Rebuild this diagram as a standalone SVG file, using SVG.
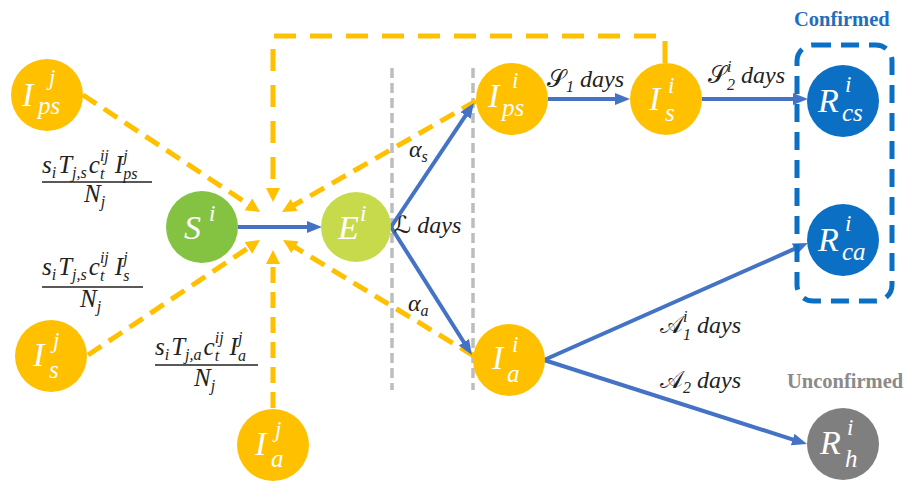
<svg xmlns="http://www.w3.org/2000/svg" width="920" height="481" viewBox="0 0 920 481">
<style>
.or{fill:#FFC000}
.nl{font-family:"Liberation Serif","DejaVu Serif",serif;font-style:italic;fill:#fff;font-size:34px}
.ns{font-size:25px}
.nu{font-size:23px}
.od{fill:none;stroke:#FFC000;stroke-width:5;stroke-dasharray:16 9}
.bl{fill:none;stroke:#4472C4;stroke-width:4}
.gd{fill:none;stroke:#BDBDBD;stroke-width:3.5;stroke-dasharray:10 5}
.f{font-family:"Liberation Serif","DejaVu Serif",serif;font-style:italic;fill:#222;font-size:25px}
.fs{font-size:16px}
.lb{font-family:"Liberation Serif","DejaVu Serif","DejaVu Sans",serif;font-style:italic;fill:#222;font-size:24px}
.ls{font-size:16px}
.sc{font-style:normal}
</style>
<defs>
<marker id="ao" markerUnits="userSpaceOnUse" markerWidth="16" markerHeight="16" refX="2" refY="7" orient="auto"><path d="M0,0 L14,7 L0,14 z" fill="#FFC000"/></marker>
<marker id="ab" markerUnits="userSpaceOnUse" markerWidth="16" markerHeight="14" refX="2" refY="6" orient="auto"><path d="M0,0 L15,6 L0,12 z" fill="#4472C4"/></marker>
</defs>
<rect width="920" height="481" fill="#fff"/>

<g id="connectors">
<line class="gd" x1="392" y1="68" x2="392" y2="390"/>
<line class="gd" x1="473" y1="68" x2="473" y2="390"/>
<line class="od" x1="83" y1="95" x2="250" y2="205.4" marker-end="url(#ao)"/>
<line class="od" x1="88" y1="355" x2="250" y2="246.7" marker-end="url(#ao)"/>
<line class="od" x1="273" y1="408" x2="273" y2="262" marker-end="url(#ao)"/>
<line class="od" x1="476" y1="101" x2="292.4" y2="206" marker-end="url(#ao)"/>
<line class="od" x1="474" y1="356" x2="293.3" y2="246.2" marker-end="url(#ao)"/>
<path class="od" d="M665,63 V36 H273 V190" style="stroke-dasharray:22 14" marker-end="url(#ao)"/>
<line class="bl" x1="238" y1="227" x2="309" y2="227" marker-end="url(#ab)"/>
<line class="bl" x1="391" y1="227" x2="466.7" y2="113.8" marker-end="url(#ab)"/>
<line class="bl" x1="391" y1="227" x2="465" y2="344" marker-end="url(#ab)"/>
<line class="bl" x1="548" y1="99" x2="617" y2="99" marker-end="url(#ab)"/>
<line class="bl" x1="702" y1="99" x2="795" y2="99" marker-end="url(#ab)"/>
<line class="bl" x1="544" y1="360" x2="796.1" y2="248.2" marker-end="url(#ab)"/>
<line class="bl" x1="544" y1="360" x2="794.6" y2="440.1" marker-end="url(#ab)"/>
</g>

<g id="confirmed-group">
<rect x="797" y="45" width="95" height="256" rx="16" fill="none" stroke="#0B6FC4" stroke-width="5" stroke-dasharray="18 10"/>
<text x="794" y="26" font-family="Liberation Serif,serif" font-weight="bold" font-size="20.5" fill="#1F6FBF">Confirmed</text>
</g>
<text id="label-unconfirmed" x="787" y="388" font-family="Liberation Serif,serif" font-weight="bold" font-size="20.5" fill="#8A8A8A">Unconfirmed</text>

<g id="node-Ipsj"><circle class="or" cx="47" cy="95" r="36"/>
<text class="nl" x="22" y="106">I</text><text class="nl nu" x="49" y="85">j</text><text class="nl ns" x="38" y="114">ps</text></g>
<g id="node-Isj"><circle class="or" cx="51" cy="356" r="36"/>
<text class="nl" x="33" y="366">I</text><text class="nl nu" x="53" y="348">j</text><text class="nl ns" x="49" y="378">s</text></g>
<g id="node-Iaj"><circle class="or" cx="273" cy="445" r="36"/>
<text class="nl" x="255" y="455">I</text><text class="nl nu" x="275" y="437">j</text><text class="nl ns" x="271" y="467">a</text></g>
<g id="node-Si"><circle cx="202" cy="227" r="36" fill="#84C341"/>
<text class="nl" x="184" y="239">S</text><text class="nl nu" x="209" y="221">i</text></g>
<g id="node-Ei"><circle cx="356" cy="227" r="35" fill="#C6DA4C"/>
<text class="nl" x="338" y="239">E</text><text class="nl nu" x="360" y="221">i</text></g>
<g id="node-Ipsi"><circle class="or" cx="512" cy="99" r="36"/>
<text class="nl" x="488" y="107">I</text><text class="nl nu" x="512" y="88">i</text><text class="nl ns" x="502" y="116">ps</text></g>
<g id="node-Isi"><circle class="or" cx="666" cy="99" r="36"/>
<text class="nl" x="649" y="110">I</text><text class="nl nu" x="668" y="93">i</text><text class="nl ns" x="665" y="121">s</text></g>
<g id="node-Iai"><circle class="or" cx="509" cy="360" r="36"/>
<text class="nl" x="492" y="369">I</text><text class="nl nu" x="512" y="352">i</text><text class="nl ns" x="507" y="382">a</text></g>
<g id="node-Rcs"><circle cx="843" cy="101" r="36" fill="#0B6FC4"/>
<text class="nl" x="818" y="112">R</text><text class="nl nu" x="845" y="92">i</text><text class="nl ns" x="842" y="121">cs</text></g>
<g id="node-Rca"><circle cx="843" cy="240" r="36" fill="#0B6FC4"/>
<text class="nl" x="818" y="251">R</text><text class="nl nu" x="845" y="231">i</text><text class="nl ns" x="842" y="260">ca</text></g>
<g id="node-Rh"><circle cx="843" cy="444" r="36" fill="#7F7F7F"/>
<text class="nl" x="820" y="454">R</text><text class="nl nu" x="847" y="435">i</text><text class="nl ns" x="845" y="467">h</text></g>

<g id="rate-labels">
<text class="f" x="42" y="173">s<tspan class="fs" dy="5">i</tspan><tspan dx="2" dy="-5">T</tspan><tspan class="fs" dy="5">j,s</tspan><tspan dx="2" dy="-5">c</tspan><tspan class="fs" dy="6">t</tspan><tspan class="fs" dx="-4.4" dy="-18">ij</tspan><tspan dx="6" dy="12">I</tspan><tspan class="fs" dy="-12">j</tspan><tspan class="fs" dx="-4.4" dy="18">ps</tspan></text>
<line x1="42" y1="182" x2="152" y2="182" stroke="#222" stroke-width="1.5"/>
<text class="f" x="84" y="202">N<tspan class="fs" dy="5">j</tspan></text>

<text class="f" x="42" y="275">s<tspan class="fs" dy="5">i</tspan><tspan dx="2" dy="-5">T</tspan><tspan class="fs" dy="5">j,s</tspan><tspan dx="2" dy="-5">c</tspan><tspan class="fs" dy="6">t</tspan><tspan class="fs" dx="-4.4" dy="-18">ij</tspan><tspan dx="6" dy="12">I</tspan><tspan class="fs" dy="-12">j</tspan><tspan class="fs" dx="-4.4" dy="18">s</tspan></text>
<line x1="42" y1="287" x2="143" y2="287" stroke="#222" stroke-width="1.5"/>
<text class="f" x="80" y="307">N<tspan class="fs" dy="5">j</tspan></text>

<text class="f" x="155" y="355">s<tspan class="fs" dy="5">i</tspan><tspan dx="2" dy="-5">T</tspan><tspan class="fs" dy="5">j,a</tspan><tspan dx="2" dy="-5">c</tspan><tspan class="fs" dy="6">t</tspan><tspan class="fs" dx="-4.4" dy="-18">ij</tspan><tspan dx="6" dy="12">I</tspan><tspan class="fs" dy="-12">j</tspan><tspan class="fs" dx="-4.4" dy="18">a</tspan></text>
<line x1="155" y1="365" x2="258" y2="365" stroke="#222" stroke-width="1.5"/>
<text class="f" x="194" y="386">N<tspan class="fs" dy="5">j</tspan></text>
</g>

<g id="transition-labels">
<text class="lb" x="409" y="157">α<tspan class="ls" dy="5">s</tspan></text>
<text class="lb" x="408" y="311">α<tspan class="ls" dy="5">a</tspan></text>
<text class="lb" x="394" y="233"><tspan class="sc">ℒ</tspan> days</text>
<text class="lb" x="547" y="87"><tspan class="sc">𝒮</tspan><tspan class="ls" dy="5">1</tspan><tspan dy="-5"> days</tspan></text>
<text class="lb" x="708" y="83"><tspan class="sc">𝒮</tspan><tspan class="ls" dy="-11">i</tspan><tspan class="ls" dx="-4.4" dy="18">2</tspan><tspan dy="-7"> days</tspan></text>
<text class="lb" x="660" y="333"><tspan class="sc">𝒜</tspan><tspan class="ls" dy="-11">i</tspan><tspan class="ls" dx="-4.4" dy="18">1</tspan><tspan dy="-7"> days</tspan></text>
<text class="lb" x="660" y="388"><tspan class="sc">𝒜</tspan><tspan class="ls" dy="5">2</tspan><tspan dy="-5"> days</tspan></text>
</g>
</svg>
